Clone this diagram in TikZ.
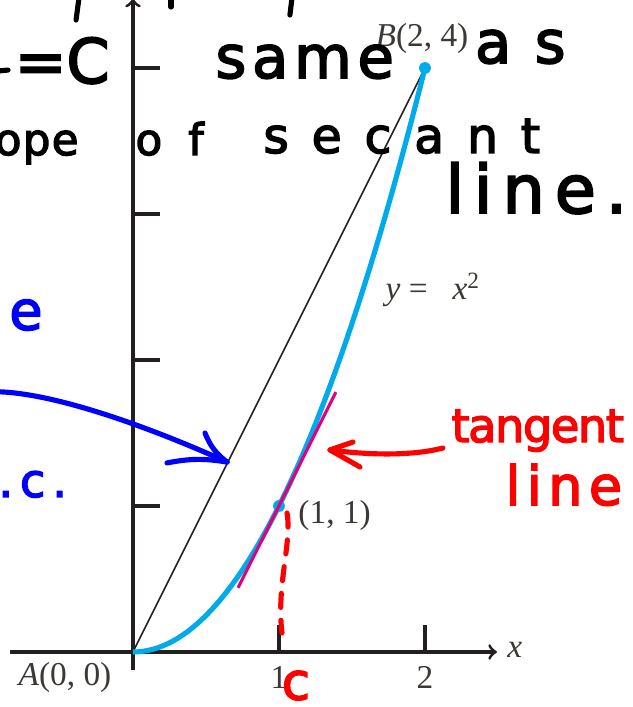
\documentclass[tikz,border=0pt]{standalone}
\usepackage{fontspec}
\setmainfont{Liberation Serif}
\newfontfamily\handfont[FakeBold=3]{DejaVu Sans}
\usetikzlibrary{positioning}

\definecolor{curvecyan}{RGB}{0,170,235}
\definecolor{tanmagenta}{RGB}{228,0,124}
\definecolor{inkred}{RGB}{255,0,0}
\definecolor{inkblue}{RGB}{0,0,255}
\definecolor{axisgray}{RGB}{35,31,32}
\definecolor{labelgray}{RGB}{60,56,52}

\newcommand{\hw}[2]{\handfont\fontsize{#1}{#1}\selectfont\addfontfeature{LetterSpace=#2}}

\tikzset{
  axis/.style={draw=axisgray, line width=1.2pt},
  lbl/.style={text=labelgray, font=\fontsize{13}{15}\selectfont, inner sep=0pt},
  dot/.style={circle, fill=curvecyan, inner sep=0pt, minimum size=4.6pt},
  ink/.style={inner sep=0pt, anchor=base west},
  pen/.style={line width=2pt, line cap=round, line join=round}
}

\begin{document}
\begin{tikzpicture}[x=2cm, y=2cm]
    \useasboundingbox (-0.911,-0.377) rectangle (3.425,4.466);
    \clip (-0.911,-0.377) rectangle (3.425,4.466);
    % Axes
    \draw[axis, ->] (-0.842,0) -- (2.493,0);
    \draw[axis, ->] (0,-0.123) -- (0,4.475);
    \foreach \y in {1,...,4} \draw[axis] (0,\y) -- (0.185,\y);
    \foreach \x in {1,2} \draw[axis] (\x,0) -- (\x,0.185);

    % Nodes
    \coordinate (A) at (0,0);
    \coordinate (Bc) at (2,4);
    \node[lbl] (alabel) at (-0.466,-0.178) {\textit{A}(0, 0)};
    \node[lbl] (one) at (1,-0.178) {1};
    \node[lbl] (two) at (2,-0.178) {2};
    \node[lbl] (xlabel) at (2.616,0.014) {\textit{x}};
    \node[lbl, anchor=west] (plabel) at (1.13,0.938) {(1, 1)};
    \node[lbl] (blabel) at (1.98,4.205) {\textit{B}(2, 4)};
    \node[lbl] (curvelabel) at (2.055,2.48) {\textit{y} =\ \ \ \textit{x}\textsuperscript{2}};

    % Secant, curve and tangent
    \draw[line width=0.6pt, axisgray] (A) -- (Bc);
    \draw[curvecyan, line width=2pt] plot[domain=0:2, samples=60] (\x,{\x*\x});
    \node[dot] (P) at (1,1) {};
    \node[dot] (B) at (2,4) {};
    \coordinate (t1) at (0.72,0.44);
    \coordinate (t2) at (1.39,1.78);
    \draw[tanmagenta, line width=1.2pt] (t1) -- (t2);

    % Handwriting
    \node[ink, anchor=base east, font=\hw{24}{0}] (eqc) at (-0.158,3.897) {=C};
    \draw[pen] (-0.93,3.979) -- (-0.856,3.986);
    \draw[pen] (-0.37,4.48) -- (-0.39,4.329);
    \draw[pen] (0.26,4.48) -- (0.26,4.418);
    \draw[pen] (1.089,4.48) -- (1.075,4.363);
    \node[ink, font=\hw{23}{10}] (same) at (0.562,3.932) {same};
    \node[ink, font=\hw{23}{40}] (as) at (2.34,4.034) {as};
    \node[ink, font=\hw{17}{3}] (ope) at (-0.95,3.404) {ope};
    \node[ink, font=\hw{17}{60}] (of) at (0.014,3.404) {of};
    \node[ink, font=\hw{19}{47}] (secant) at (0.89,3.418) {secant};
    \node[ink, font=\hw{26}{15}] (line) at (2.137,3.007) {line.};

    % Blue note
    \node[ink, anchor=center, text=inkblue, font=\hw{21}{0}] (bluee) at (-0.733,2.308) {e};
    \node[ink, text=inkblue, font=\hw{18}{15}] (bluec) at (-0.925,1.062) {.c.};
    \coordinate (bstart) at (-0.95,1.783);
    \coordinate (btip) at (0.644,1.301);
    \coordinate (bup) at (0.493,1.5);
    \coordinate (blow) at (0.233,1.295);
    \draw[pen, inkblue] (bstart) .. controls (-0.5,1.78) and (0.25,1.48) .. (btip);
    \draw[pen, inkblue] (bup) to[bend right=15] (btip);
    \draw[pen, inkblue] (blow) to[bend left=10] (btip);

    % Red note
    \node[ink, text=inkred, font=\hw{18}{-3}] (tangent) at (2.178,1.438) {tangent};
    \node[ink, text=inkred, font=\hw{21}{12}] (redline) at (2.548,1.007) {line};
    \node[ink, anchor=center, text=inkred, font=\hw{20}{0}] (redc) at (1.116,-0.23) {c};
    \coordinate (rstart) at (2.123,1.397);
    \coordinate (rtip) at (1.349,1.384);
    \coordinate (rup) at (1.507,1.438);
    \coordinate (rlow) at (1.555,1.267);
    \draw[pen, inkred] (rstart) .. controls (1.9,1.34) and (1.6,1.35) .. (rtip);
    \draw[pen, inkred] (rup) -- (rtip) -- (rlow);
    \draw[pen, inkred, dash pattern=on 5.5pt off 5pt] (1.055,0.952) .. controls (1.09,0.75) and (0.98,0.45) .. (1.021,0.13);
\end{tikzpicture}
\end{document}
